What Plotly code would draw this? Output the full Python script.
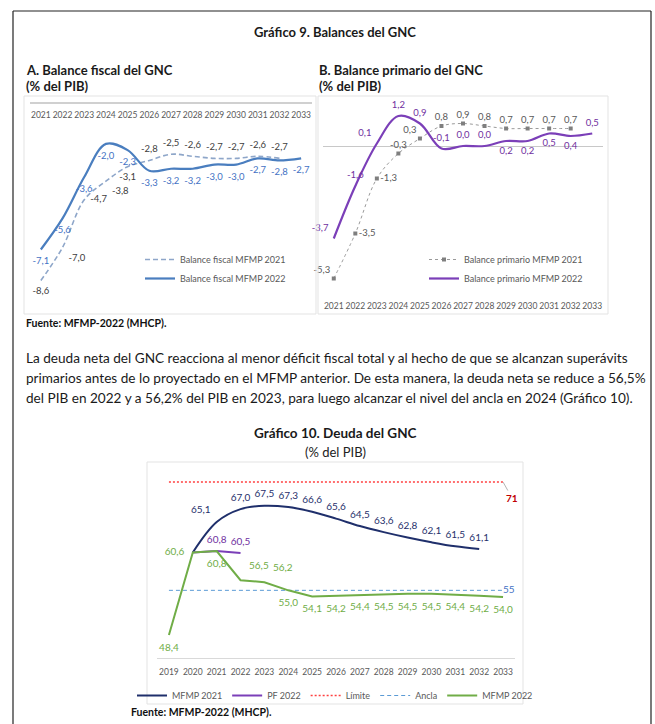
import plotly.graph_objects as go

W, H = 655, 724
FONT = "Lato, 'Open Sans', sans-serif"

def px(x):
    return x / W

def py(y):
    return 1 - y / H

# ---------------- DATA ----------------
years_a = [str(y) for y in range(2021, 2034)]
fiscal_2021 = [-8.6, -7.0, -4.7, -3.8, -3.1, -2.8, -2.5, -2.6, -2.7, -2.7, -2.6, -2.7]
fiscal_2022 = [-7.1, -5.6, -3.6, -2.0, -2.3, -3.3, -3.2, -3.2, -3.0, -3.0, -2.7, -2.8, -2.7]

years_b = [str(y) for y in range(2021, 2034)]
primario_2021 = [-5.3, -3.5, -1.3, -0.3, 0.3, 0.8, 0.9, 0.8, 0.7, 0.7, 0.7, 0.7]
primario_2022 = [-3.7, -1.6, 0.1, 1.2, 0.9, -0.1, 0.0, 0.0, 0.2, 0.2, 0.5, 0.4, 0.5]

years_c = [str(y) for y in range(2019, 2034)]
mfmp2021_years = [str(y) for y in range(2020, 2033)]
mfmp2021 = [60.6, 65.1, 67.0, 67.5, 67.3, 66.6, 65.6, 64.5, 63.6, 62.8, 62.1, 61.5, 61.1]
pf2022_years = ["2020", "2021", "2022"]
pf2022 = [60.6, 60.8, 60.5]
mfmp2022 = [48.4, 60.6, 60.8, 56.5, 56.2, 55.0, 54.1, 54.2, 54.4, 54.5, 54.5, 54.5, 54.4, 54.2, 54.0]
limite = [71] * 15
ancla = [55] * 15


def fmt(v):
    return f"{v:.1f}".replace(".", ",")


CLEAR = "rgba(0,0,0,0)"
fig = go.Figure()

# ---------------- CHART A ----------------
pos_a21 = ["bottom center", "bottom right", "middle right", "bottom right", "bottom center"] + ["top center"] * 7
pos_a22 = ["bottom center"] * 13
fig.add_trace(go.Scatter(
    x=years_a[:len(fiscal_2021)], y=fiscal_2021, name="Balance fiscal MFMP 2021",
    mode="lines+markers+text", line=dict(color="#8EA6C9", width=1.6, dash="5px,3px", shape="spline", smoothing=1),
    marker=dict(size=8, color=CLEAR),
    text=[fmt(v) for v in fiscal_2021], textposition=pos_a21, cliponaxis=False,
    textfont=dict(size=9.5, color="#404040", family=FONT),
    xaxis="x", yaxis="y", legend="legend"))
fig.add_trace(go.Scatter(
    x=years_a, y=fiscal_2022, name="Balance fiscal MFMP 2022",
    mode="lines+markers+text", line=dict(color="#4A7EBF", width=2.2, shape="spline", smoothing=1),
    marker=dict(size=11, color=CLEAR),
    text=[fmt(v) for v in fiscal_2022], textposition=pos_a22, cliponaxis=False,
    textfont=dict(size=9.5, color="#4472C4", family=FONT),
    xaxis="x", yaxis="y", legend="legend"))

# ---------------- CHART B ----------------
pos_b21 = ["top left", "middle right", "middle right", "top center", "top left"] + ["top center"] * 7
pos_b22 = ["top left", "top center", "top left", "top center", "top center", "top center", "top center",
           "top center", "bottom center", "bottom center", "bottom center", "bottom center", "top center"]
fig.add_trace(go.Scatter(
    x=years_b[:len(primario_2021)], y=primario_2021, name="Balance primario MFMP 2021",
    mode="lines+markers+text",
    line=dict(color="#9A9A9A", width=1, dash="dot", shape="spline", smoothing=1),
    marker=dict(symbol="square", size=4, color="#7F7F7F"),
    text=[fmt(v) for v in primario_2021], textposition=pos_b21, cliponaxis=False,
    textfont=dict(size=9.5, color="#595959", family=FONT),
    xaxis="x2", yaxis="y2", legend="legend2"))
fig.add_trace(go.Scatter(
    x=years_b, y=primario_2022, name="Balance primario MFMP 2022",
    mode="lines+markers+text", line=dict(color="#7B3FB8", width=2.2, shape="spline", smoothing=1),
    marker=dict(size=7, color=CLEAR),
    text=[fmt(v) for v in primario_2022], textposition=pos_b22, cliponaxis=False,
    textfont=dict(size=9.5, color="#7030A0", family=FONT),
    xaxis="x2", yaxis="y2", legend="legend2"))

# ---------------- CHART 10 ----------------
fig.add_trace(go.Scatter(
    x=mfmp2021_years, y=mfmp2021, name="MFMP 2021",
    mode="lines+markers+text", line=dict(color="#1F2F6B", width=2, shape="spline", smoothing=1),
    marker=dict(size=8, color=CLEAR),
    text=[""] + [fmt(v) for v in mfmp2021[1:]], cliponaxis=False,
    textposition=["top center", "top left"] + ["top center"] * 11,
    textfont=dict(size=10, color="#1F2F6B", family=FONT),
    xaxis="x3", yaxis="y3", legend="legend3"))
fig.add_trace(go.Scatter(
    x=pf2022_years, y=pf2022, name="PF 2022",
    mode="lines+markers+text", line=dict(color="#7B3FB8", width=2), cliponaxis=False,
    marker=dict(size=8, color=CLEAR),
    text=[""] + [fmt(v) for v in pf2022[1:]], textposition="top center",
    textfont=dict(size=10, color="#7030A0", family=FONT),
    xaxis="x3", yaxis="y3", legend="legend3"))
fig.add_trace(go.Scatter(
    x=years_c, y=limite, name="Límite",
    mode="lines", line=dict(color="#FF4040", width=1.5, dash="2px,2px"),
    xaxis="x3", yaxis="y3", legend="legend3"))
fig.add_trace(go.Scatter(
    x=years_c, y=ancla, name="Ancla",
    mode="lines+text", line=dict(color="#5B9BD5", width=1, dash="4px,3px"), cliponaxis=False,
    text=[""] * (len(ancla) - 1) + [f"{ancla[-1]}"], textposition="middle right",
    textfont=dict(size=10, color="#4472C4", family=FONT),
    xaxis="x3", yaxis="y3", legend="legend3"))
fig.add_trace(go.Scatter(
    x=years_c, y=mfmp2022, name="MFMP 2022",
    mode="lines+markers+text", line=dict(color="#70AD47", width=2), cliponaxis=False,
    marker=dict(size=12, color=CLEAR),
    text=[fmt(v) for v in mfmp2022],
    textposition=["bottom center", "middle left", "bottom center", "top right", "top right"] + ["bottom center"] * 10,
    textfont=dict(size=10, color="#70AD47", family=FONT),
    xaxis="x3", yaxis="y3", legend="legend3"))

# label for the limit line (category index of its last point)
fig.add_annotation(x=len(years_c) - 1, y=limite[-1], xref="x3", yref="y3", text=f"<b>{limite[-1]}</b>",
                   showarrow=True, arrowhead=0, arrowwidth=0.8, arrowcolor="#A0A0A0", ax=9, ay=16,
                   font=dict(size=10, color="#C00000", family=FONT))

# ---------------- BOXES / FRAME ----------------
shapes = [
    dict(type="line", xref="paper", yref="paper", x0=px(13), x1=px(651), y0=py(11), y1=py(11), line=dict(color="#222", width=1.2)),
    dict(type="line", xref="paper", yref="paper", x0=px(13), x1=px(13), y0=py(11), y1=0, line=dict(color="#222", width=1.2)),
    dict(type="line", xref="paper", yref="paper", x0=px(651), x1=px(651), y0=py(11), y1=0, line=dict(color="#222", width=1.2)),
    dict(type="rect", xref="paper", yref="paper", x0=px(24), x1=px(316), y0=py(314), y1=py(96), line=dict(color="#E3E3E3", width=1)),
    dict(type="rect", xref="paper", yref="paper", x0=px(318), x1=px(608), y0=py(314), y1=py(96), line=dict(color="#E3E3E3", width=1)),
    dict(type="rect", xref="paper", yref="paper", x0=px(147), x1=px(523), y0=py(704), y1=py(462), line=dict(color="#E3E3E3", width=1)),
]

# ---------------- TEXT ----------------
def note(x, y, text, size=12, color="#1A1A1A", xanchor="left", bold=False):
    fig.add_annotation(xref="paper", yref="paper", x=px(x), y=py(y), text=f"<b>{text}</b>" if bold else text,
                       showarrow=False, xanchor=xanchor, yanchor="middle",
                       font=dict(size=size, color=color, family=FONT))

note(335, 32, "Gráfico 9. Balances del GNC", size=13, xanchor="center", bold=True)
note(24, 70, "A. Balance fiscal del GNC", size=13, bold=True)
note(24, 86, "(% del PIB)", size=13, bold=True)
note(317, 70, "B. Balance primario del GNC", size=13, bold=True)
note(317, 86, "(% del PIB)", size=13, bold=True)
note(24, 323, "Fuente: MFMP-2022 (MHCP).", size=10.5, color="#111", bold=True)
para = [
    "La deuda neta del GNC reacciona al menor déficit fiscal total y al hecho de que se alcanzan superávits",
    "primarios antes de lo proyectado en el MFMP anterior. De esta manera, la deuda neta se reduce a 56,5%",
    "del PIB en 2022 y a 56,2% del PIB en 2023, para luego alcanzar el nivel del ancla en 2024 (Gráfico 10).",
]
for i, line in enumerate(para):
    note(24, 358 + 20 * i, line, size=13.6)
note(335, 433, "Gráfico 10. Deuda del GNC", size=13.5, xanchor="center", bold=True)
note(335, 452, "(% del PIB)", size=13, xanchor="center", color="#222")
note(129, 712, "Fuente: MFMP-2022 (MHCP).", size=10.5, color="#111", bold=True)

tickfont = dict(size=8.5, color="#595959", family=FONT)
legfont = dict(size=9, color="#595959", family=FONT)

fig.update_layout(
    width=W, height=H, autosize=False,
    margin=dict(l=0, r=0, t=0, b=0),
    paper_bgcolor="white", plot_bgcolor="rgba(0,0,0,0)",
    shapes=shapes,
    xaxis=dict(domain=[px(30), px(312)], type="category", categoryorder="array", categoryarray=years_a,
               range=[-0.5, 12.5], anchor="free", ticklabelstandoff=4, tickangle=0,
               position=py(102.5), side="bottom", showline=True, linecolor="#D0D0D0", linewidth=2,
               ticks="", showgrid=False, tickfont=tickfont),
    yaxis=dict(domain=[py(309.5), py(102.5)], range=[-10, 0], visible=False, anchor="x"),
    xaxis2=dict(domain=[px(323), px(603)], type="category", categoryorder="array", categoryarray=years_b,
                range=[-0.5, 12.5], anchor="y2", ticklabelstandoff=3, tickangle=0,
                showline=False, ticks="", showgrid=False, tickfont=tickfont),
    yaxis2=dict(domain=[py(296), py(96)], range=[-6, 2], anchor="x2", showgrid=False,
                showticklabels=False, zeroline=True, zerolinecolor="#C8C8C8", zerolinewidth=1.2),
    xaxis3=dict(domain=[px(157), px(515)], type="category", categoryorder="array", categoryarray=years_c,
                range=[-0.5, 14.5], anchor="y3", ticklabelstandoff=6, tickangle=0,
                showline=True, linecolor="#D9D9D9", linewidth=1, ticks="", showgrid=False, tickfont=tickfont),
    yaxis3=dict(domain=[py(658), py(455)], range=[45, 75], anchor="x3", visible=False),
    legend=dict(x=px(140), y=py(245), xanchor="left", yanchor="top", orientation="v",
                font=legfont, bgcolor="rgba(0,0,0,0)", itemwidth=30, tracegroupgap=2),
    legend2=dict(x=px(424), y=py(245), xanchor="left", yanchor="top", orientation="v",
                 font=legfont, bgcolor="rgba(0,0,0,0)", itemwidth=30),
    legend3=dict(x=px(335), y=py(681), xanchor="center", yanchor="top", orientation="h",
                 font=legfont, bgcolor="rgba(0,0,0,0)", itemwidth=30),
    showlegend=True,
)

fig.write_html("out.html")
